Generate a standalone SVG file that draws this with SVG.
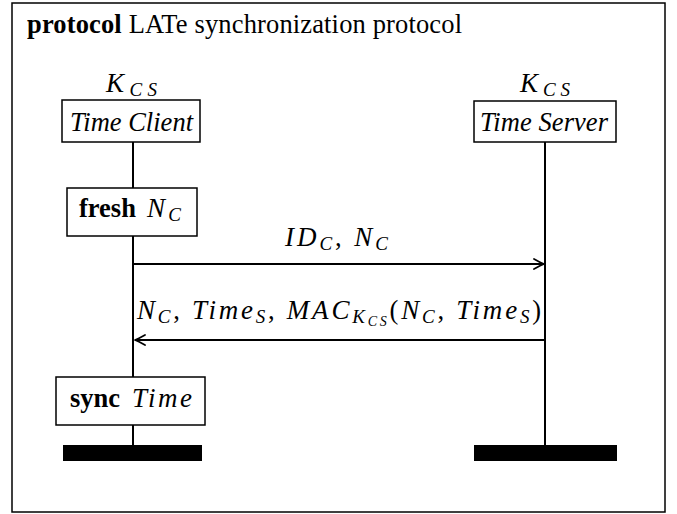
<svg xmlns="http://www.w3.org/2000/svg" width="677" height="514" viewBox="0 0 677 514">
<style>
text{font-family:"Liberation Serif","Times New Roman",serif;fill:#000}
.t{font-size:26.5px}
.it{font-size:26.5px;font-style:italic}
.m{font-size:27px;font-style:italic}
.s{font-size:19px;font-style:italic}
.ss{font-size:14px;font-style:italic}
.b{font-weight:bold}
.box{fill:#fff;stroke:#000;stroke-width:1.5}
.life{stroke:#000;stroke-width:2}
.msg{stroke:#000;stroke-width:1.8;fill:none}
</style>
<defs>
<marker id="ah" viewBox="-12 -7 14 14" refX="0" refY="0" markerWidth="14" markerHeight="14" markerUnits="userSpaceOnUse" orient="auto">
<path d="M-10,-5 Q-3,-1.2 0,0 Q-3,1.2 -10,5" fill="none" stroke="#000" stroke-width="1.8" stroke-linecap="round" stroke-linejoin="round"/>
</marker>
</defs>
<rect x="12" y="3" width="653" height="509" fill="#fff" stroke="#000" stroke-width="1.5"/>
<text class="t" x="27" y="33" textLength="435" lengthAdjust="spacing"><tspan class="b">protocol</tspan> LATe synchronization protocol</text>

<g id="lifelines">
<line class="life" x1="133" y1="142" x2="133" y2="446"/>
<line class="life" x1="545" y1="142" x2="545" y2="446"/>
</g>

<g id="client">
<text x="106" y="92" textLength="51" lengthAdjust="spacing"><tspan class="m">K</tspan><tspan class="s" dy="4">CS</tspan></text>
<rect class="box" x="62" y="100" width="138" height="42"/>
<text class="it" x="70" y="131" textLength="123" lengthAdjust="spacing">Time Client</text>
</g>

<g id="server">
<text x="520" y="92" textLength="50" lengthAdjust="spacing"><tspan class="m">K</tspan><tspan class="s" dy="4">CS</tspan></text>
<rect class="box" x="474" y="101" width="142" height="41"/>
<text class="it" x="480" y="131" textLength="128" lengthAdjust="spacing">Time Server</text>
</g>

<g id="fresh">
<rect class="box" x="67" y="188" width="130" height="48"/>
<text class="t b" x="79" y="217">fresh</text>
<text x="147" y="217" textLength="34" lengthAdjust="spacing"><tspan class="m">N</tspan><tspan class="s" dy="4">C</tspan></text>
</g>

<g id="sync">
<rect class="box" x="56" y="377" width="149" height="48"/>
<text class="t b" x="70" y="407">sync</text>
<text class="m" x="132" y="407" textLength="60" lengthAdjust="spacing">Time</text>
</g>

<g id="ends">
<rect x="63" y="445" width="139" height="16" fill="#000"/>
<rect x="474" y="445" width="143" height="16" fill="#000"/>
</g>

<g id="connectors">
<line class="msg" x1="133" y1="264" x2="544" y2="264" marker-end="url(#ah)"/>
<line class="msg" x1="545" y1="340" x2="135" y2="340" marker-end="url(#ah)"/>
</g>

<g id="labels">
<text x="285" y="246" textLength="103" lengthAdjust="spacing"><tspan class="m">ID</tspan><tspan class="s" dy="4">C</tspan><tspan class="t" dy="-4">, </tspan><tspan class="m">N</tspan><tspan class="s" dy="4">C</tspan></text>
<text x="137" y="319" textLength="404" lengthAdjust="spacing"><tspan class="m">N</tspan><tspan class="s" dy="4">C</tspan><tspan class="t" dy="-4">, </tspan><tspan class="m">Time</tspan><tspan class="s" dy="4">S</tspan><tspan class="t" dy="-4">, </tspan><tspan class="m">MAC</tspan><tspan class="s" dy="4">K</tspan><tspan class="ss" dy="3">CS</tspan><tspan class="t" dy="-7">(</tspan><tspan class="m">N</tspan><tspan class="s" dy="4">C</tspan><tspan class="t" dy="-4">, </tspan><tspan class="m">Time</tspan><tspan class="s" dy="4">S</tspan><tspan class="t" dy="-4">)</tspan></text>
</g>
</svg>
